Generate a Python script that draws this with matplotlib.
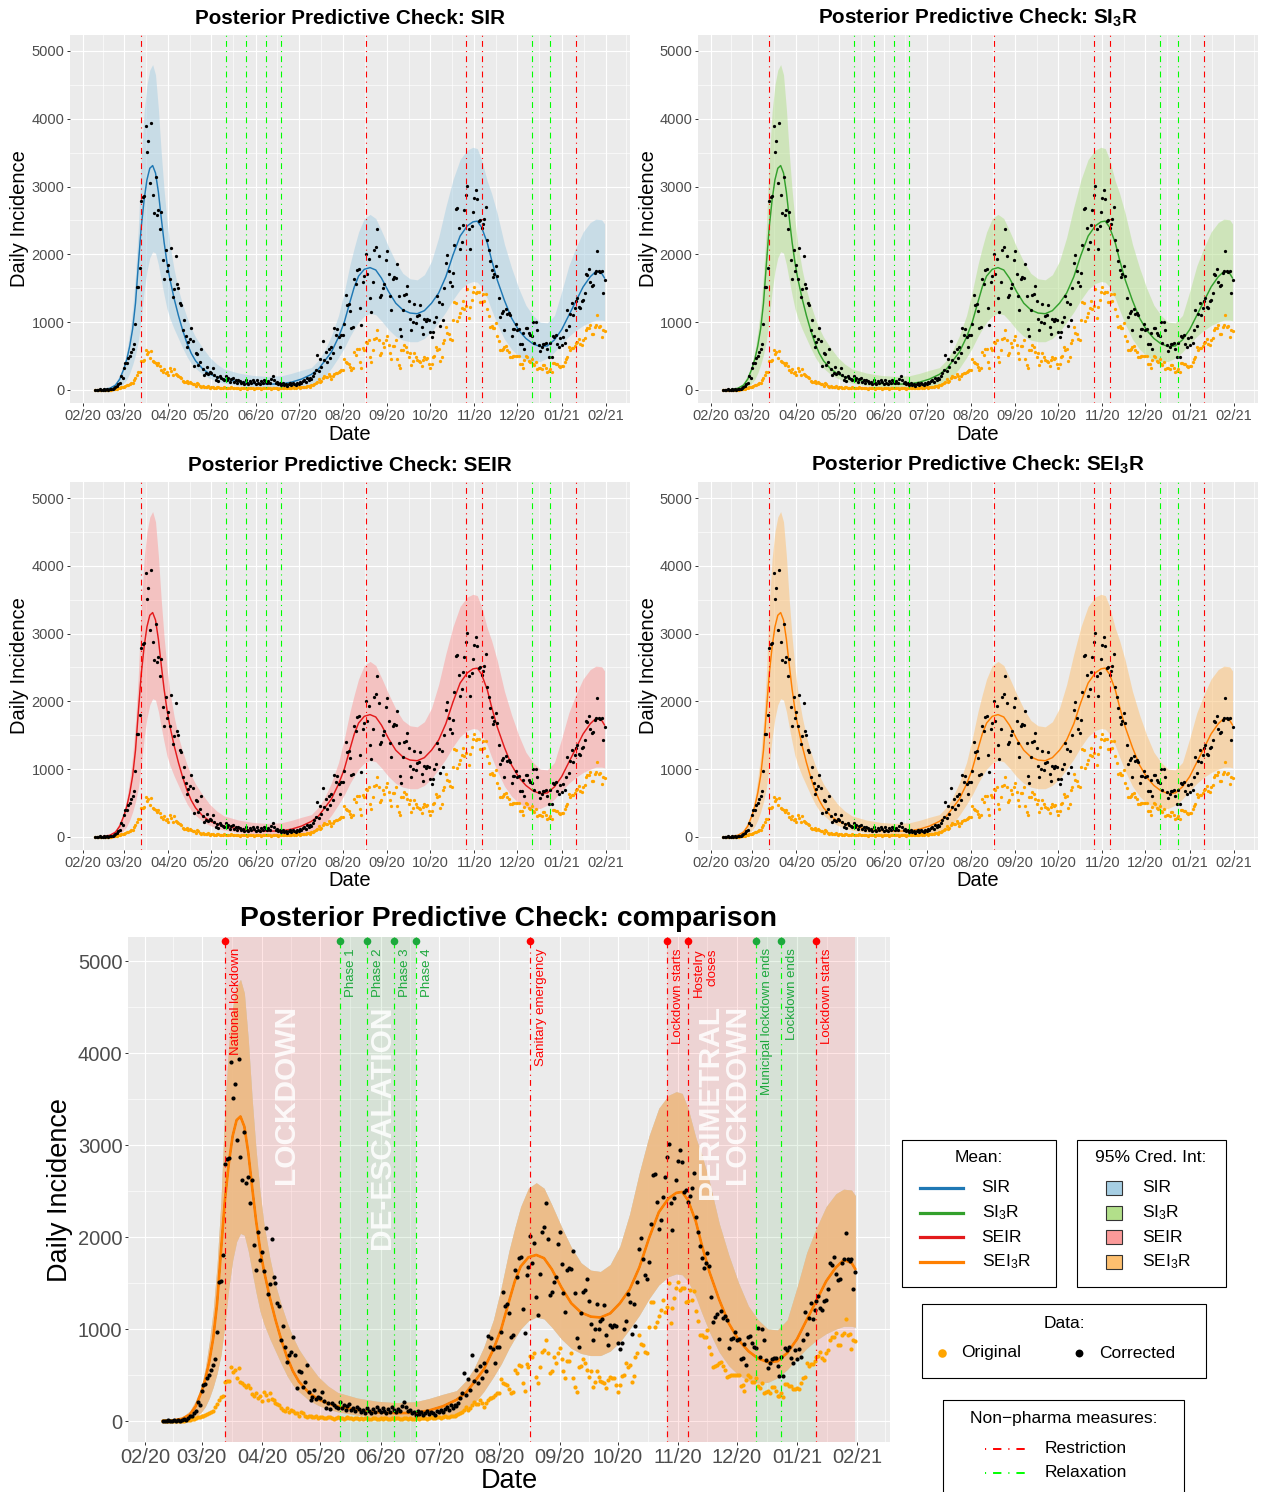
import numpy as np
import matplotlib
matplotlib.use('Agg')
import matplotlib.pyplot as plt
import matplotlib.dates as mdates
from matplotlib.patches import Rectangle
from matplotlib.lines import Line2D

plt.rcParams['font.family'] = ['Liberation Sans', 'DejaVu Sans']
plt.rcParams['mathtext.fontset'] = 'custom'
plt.rcParams['mathtext.rm'] = 'Liberation Sans'
plt.rcParams['mathtext.bf'] = 'Liberation Sans:bold'
plt.rcParams['mathtext.it'] = 'Liberation Sans:italic'
plt.rcParams['lines.scale_dashes'] = False

# ---------------- data ----------------
start_date = '2020-02-10'   # first day of the daily series

corrected = [
    0, 5, 0, 10, 5, 0, 10, 5, 15, 0,
    10, 20, 15, 30, 50, 60, 84, 110, 210, 174,
    326, 391, 400, 467, 500, 554, 609, 674, 971, 1514,
    1525, 1804, 2793, 2844, 2862, 3898, 3507, 3667, 3054, 3931,
    2873, 2616, 3141, 2583, 2649, 2373, 2620, 1913, 1641, 2058,
    1750, 1840, 1630, 2101, 1377, 1486, 1978, 1562, 1497, 1286,
    1253, 880, 1032, 801, 638, 714, 753, 910, 720, 355,
    543, 529, 373, 420, 609, 312, 228, 257, 337, 239,
    260, 250, 319, 220, 145, 192, 130, 200, 170, 155,
    140, 210, 140, 175, 120, 160, 180, 120, 140, 105,
    150, 130, 100, 120, 90, 140, 110, 85, 130, 100,
    150, 120, 95, 140, 110, 90, 130, 100, 150, 120,
    100, 130, 110, 160, 210, 150, 110, 120, 90, 100,
    70, 110, 80, 95, 65, 90, 110, 75, 100, 85,
    70, 110, 95, 120, 100, 130, 150, 120, 170, 140,
    175, 160, 200, 250, 300, 520, 280, 460, 340, 717,
    440, 560, 410, 600, 470, 630, 540, 920, 810, 900,
    780, 630, 810, 808, 971, 1406, 1250, 1270, 1170, 915,
    930, 1641, 1569, 1770, 1780, 1214, 953, 1587, 1677, 2011,
    1714, 1938, 1351, 1155, 1598, 2058, 2113, 2373, 1982, 1370,
    1406, 1507, 1569, 1924, 2051, 1711, 1388, 1181, 1640, 1660,
    1650, 1851, 1388, 899, 801, 1177, 1400, 1420, 1540, 1308,
    1051, 880, 1000, 1272, 995, 1090, 1105, 1257, 935, 823,
    1040, 1020, 1045, 1035, 851, 780, 851, 1000, 1083, 1380,
    1297, 945, 1275, 1032, 1507, 1870, 1993, 1761, 1587, 1540,
    1725, 2138, 2670, 2680, 2384, 2083, 2185, 2438, 2656, 2873,
    3011, 2370, 2076, 2420, 2620, 2826, 2950, 2819, 2490, 2510,
    2384, 2450, 2529, 2692, 2214, 2058, 1900, 1768, 1667, 1714,
    1822, 1688, 1351, 1080, 1130, 1160, 888, 1195, 1125, 1140,
    1100, 790, 895, 905, 971, 885, 895, 675, 685, 837,
    608, 910, 920, 844, 808, 790, 1007, 700, 1000, 880,
    663, 572, 630, 675, 685, 690, 600, 490, 700, 490,
    790, 775, 808, 680, 630, 770, 670, 780, 700, 880,
    1185, 950, 1115, 1286, 1112, 1206, 1308, 1362, 1230, 1206,
    1310, 1320, 1431, 1714, 1696, 1778, 1600, 1535, 1545, 1720,
    1757, 2047, 1760, 1740, 1760, 1434, 1625,
]

original = [
    0, 0, 0, 5, 0, 0, 5, 0, 5, 0,
    5, 5, 10, 10, 10, 20, 25, 30, 40, 45,
    50, 60, 70, 75, 85, 100, 110, 150, 180, 228,
    261, 272, 427, 430, 435, 583, 536, 554, 467, 580,
    427, 409, 391, 373, 395, 355, 293, 272, 308, 246,
    270, 221, 319, 282, 228, 308, 236, 225, 199, 190,
    174, 138, 125, 112, 138, 100, 125, 110, 84, 90,
    60, 100, 84, 60, 47, 55, 50, 45, 40, 55,
    35, 40, 45, 30, 35, 40, 45, 30, 25, 35,
    40, 30, 35, 25, 30, 40, 35, 30, 25, 30,
    35, 20, 30, 25, 35, 30, 20, 25, 30, 35,
    25, 20, 30, 25, 35, 30, 20, 25, 30, 25,
    35, 30, 25, 20, 30, 35, 25, 30, 20, 25,
    30, 35, 25, 30, 35, 30, 25, 35, 40, 30,
    35, 40, 45, 35, 40, 50, 45, 40, 55, 60,
    50, 70, 75, 83, 100, 120, 156, 120, 138, 170,
    210, 190, 185, 230, 200, 156, 200, 230, 246, 250,
    264, 280, 300, 300, 452, 410, 405, 390, 345, 300,
    320, 556, 519, 610, 600, 418, 330, 615, 590, 712,
    700, 740, 482, 418, 587, 753, 771, 880, 740, 519,
    540, 700, 630, 740, 790, 670, 540, 464, 650, 655,
    740, 464, 373, 320, 590, 597, 670, 630, 556, 482,
    540, 373, 428, 540, 482, 436, 428, 410, 355, 446,
    482, 464, 470, 390, 320, 390, 490, 500, 630, 590,
    610, 428, 490, 700, 740, 935, 837, 826, 753, 740,
    1025, 1297, 1290, 1018, 1080, 1140, 1206, 1315, 1188, 1236,
    1496, 1062, 1224, 1333, 1442, 1514, 1424, 1442, 1450, 1297,
    1300, 1420, 1315, 1413, 1200, 1090, 935, 940, 917, 910,
    989, 800, 728, 590, 595, 608, 633, 645, 597, 560,
    482, 490, 500, 495, 500, 505, 498, 380, 390, 330,
    446, 500, 482, 428, 420, 464, 380, 362, 410, 307,
    320, 330, 310, 370, 365, 330, 270, 275, 307, 264,
    405, 400, 380, 385, 350, 345, 355, 350, 410, 464,
    482, 633, 597, 620, 615, 650, 700, 710, 753, 680,
    663, 735, 770, 880, 910, 917, 953, 826, 830, 935,
    953, 1105, 935, 944, 780, 880, 875,
]

# model posterior mean and 95% credible interval (day offsets from start_date)
curve_day = [0, 5, 10, 14, 17, 20, 22, 24, 26, 28, 30, 32, 34, 36, 38, 40, 42, 44,
             46, 48, 50, 52, 55, 58, 61, 64, 67, 70, 75, 80, 85, 90, 100, 110, 120,
             130, 137, 144, 151, 156, 160, 165, 170, 174, 178, 181, 184, 188, 192,
             196, 200, 205, 210, 215, 220, 225, 230, 235, 240, 245, 250, 255, 260,
             264, 267, 270, 274, 277, 281, 286, 291, 296, 301, 306, 311, 316, 321,
             326, 331, 336, 341, 346, 350, 354, 356]
mean_inc = [2, 5, 25, 70, 160, 320, 460, 650, 900, 1280, 1850, 2400, 2800, 3100, 3270,
            3310, 3200, 2920, 2540, 2180, 1880, 1640, 1350, 1100, 880, 690, 540, 430,
            310, 235, 190, 160, 120, 95, 85, 90, 115, 160, 230, 310, 420, 560, 780,
            1000, 1300, 1520, 1680, 1780, 1805, 1770, 1650, 1450, 1280, 1180, 1135,
            1125, 1170, 1280, 1430, 1670, 1990, 2270, 2420, 2480, 2490, 2400, 2170,
            1920, 1620, 1320, 1060, 880, 760, 680, 640, 650, 740, 890, 1100, 1310,
            1520, 1670, 1750, 1720, 1650]
lower_inc = [0, 0, 5, 15, 50, 100, 160, 250, 370, 520, 720, 1050, 1450, 1750, 1950,
             2040, 2020, 1850, 1620, 1400, 1200, 1060, 900, 760, 620, 490, 390, 320,
             230, 170, 130, 100, 65, 45, 35, 35, 40, 55, 80, 120, 190, 320, 480, 620,
             790, 900, 1000, 1090, 1130, 1110, 1020, 890, 790, 735, 712, 712, 760, 860,
             1000, 1150, 1330, 1480, 1570, 1600, 1590, 1520, 1350, 1180, 970, 750, 600,
             500, 440, 415, 420, 470, 560, 680, 790, 880, 950, 1000, 1030, 1030, 1020]
upper_inc = [10, 15, 40, 110, 220, 380, 580, 860, 1200, 1700, 2400, 3400, 4100, 4500,
             4720, 4800, 4650, 4150, 3500, 2950, 2500, 2150, 1780, 1480, 1260, 1070,
             910, 780, 620, 480, 380, 310, 250, 215, 200, 210, 245, 290, 330, 440, 570,
             800, 1100, 1450, 1850, 2100, 2330, 2530, 2590, 2530, 2350, 2110, 1890,
             1720, 1640, 1625, 1700, 1900, 2250, 2700, 3100, 3400, 3540, 3580, 3560,
             3400, 3080, 2900, 2600, 2150, 1800, 1500, 1250, 1100, 1000, 990, 1100,
             1450, 1830, 2100, 2330, 2470, 2520, 2510, 2450]

models = ['SIR', 'SI$_3$R', 'SEIR', 'SEI$_3$R']
titles_math = ['SIR', r'SI$\mathbf{_3}$R', 'SEIR', r'SEI$\mathbf{_3}$R']
line_colors = ['#1F78B4', '#33A02C', '#E31A1C', '#FF7F00']
band_colors = ['#A6CEE3', '#B2DF8A', '#FB9A99', '#FDBF6F']

restriction_dates = ['2020-03-13', '2020-08-17', '2020-10-26', '2020-11-06', '2021-01-11']
restriction_labels = ['National lockdown', 'Sanitary emergency', 'Lockdown starts',
                      'Hostelry\ncloses', 'Lockdown starts']
relaxation_dates = ['2020-05-11', '2020-05-25', '2020-06-08', '2020-06-19',
                    '2020-12-11', '2020-12-24']
relaxation_labels = ['Phase 1', 'Phase 2', 'Phase 3', 'Phase 4',
                     'Municipal lockdown ends', 'Lockdown ends']

period_start = ['2020-03-13', '2020-05-11', '2020-10-26', '2020-12-11', '2021-01-11']
period_end = ['2020-05-11', '2020-06-19', '2020-12-11', '2021-01-11', '2021-01-31']
period_kind = ['restriction', 'relaxation', 'restriction', 'relaxation', 'restriction']
period_label = ['LOCKDOWN', 'DE-ESCALATION', 'PERIMETRAL\nLOCKDOWN', '', '']

# ---------------- helpers ----------------
W, H = 1261, 1492
fig = plt.figure(figsize=(W / 100, H / 100), dpi=100)

t0 = mdates.date2num(np.datetime64(start_date))
x_corr = t0 + np.arange(len(corrected))
x_orig = t0 + np.arange(len(original))
x_curve = t0 + np.array(curve_day)
span = x_corr[-1] - x_corr[0]
xlo, xhi = x_corr[0] - 0.05 * span, x_corr[-1] + 0.05 * span

months = np.arange(np.datetime64('2020-02'), np.datetime64('2021-03'), dtype='datetime64[M]')
month_num = mdates.date2num(months.astype('datetime64[D]'))
month_lab = [mdates.num2date(m).strftime('%m/%y') for m in month_num]
minor_x = (month_num[:-1] + month_num[1:]) / 2
minor_x = np.append(minor_x, month_num[-1] + 14)

def dnum(s):
    return mdates.date2num(np.datetime64(s))

def ax_rect(l, t, r, b):
    return [l / W, 1 - b / H, (r - l) / W, (b - t) / H]

RED = '#FF0000'
LIME = '#00FF00'
DGREEN = '#1CA83C'
DASH = (0, (0.8, 3.0, 4.2, 3.0))

def style(ax, ylim, fs):
    ax.set_facecolor('#EBEBEB')
    for s in ax.spines.values():
        s.set_visible(False)
    ax.set_xlim(xlo, xhi)
    ax.set_ylim(*ylim)
    ax.set_xticks(month_num)
    ax.set_xticklabels(month_lab)
    ax.set_xticks(minor_x, minor=True)
    ax.set_yticks(np.arange(0, 5001, 1000))
    ax.set_yticks(np.arange(500, 5000, 1000), minor=True)
    ax.set_axisbelow(True)
    ax.grid(which='major', color='white', lw=0.85)
    ax.grid(which='minor', color='white', lw=0.45)
    ax.tick_params(which='major', length=2.4, width=0.7, color='#333333',
                   labelsize=fs, labelcolor='#4D4D4D', pad=1.6)
    ax.tick_params(which='minor', length=0)

def draw_band(ax, i):
    ax.fill_between(x_curve, lower_inc, upper_inc, color=band_colors[i],
                    alpha=0.5, lw=0, zorder=2)

def draw_mean(ax, i, lw):
    ax.plot(x_curve, mean_inc, color=line_colors[i], lw=lw, zorder=3,
            solid_capstyle='round', solid_joinstyle='round')

def draw_vlines(ax, lw):
    for d in restriction_dates:
        ax.axvline(dnum(d), color=RED, lw=lw, ls=DASH, zorder=5)
    for d in relaxation_dates:
        ax.axvline(dnum(d), color=LIME, lw=lw, ls=DASH, zorder=5)

def draw_points(ax, s):
    ax.scatter(x_orig, original, s=s, color='#FFA500', lw=0, zorder=4)
    ax.scatter(x_corr, corrected, s=s, color='black', lw=0, zorder=4)

# ---------------- small panels ----------------
small_rects = [(70, 35, 630, 403), (698, 35, 1258, 403),
               (70, 482, 630, 850), (698, 482, 1258, 850)]
for i, (l, t, r, b) in enumerate(small_rects):
    ax = fig.add_axes(ax_rect(l, t, r, b))
    style(ax, (-192, 5236), 10.5)
    draw_band(ax, i)
    draw_mean(ax, i, 1.05)
    draw_points(ax, 5.5)
    draw_vlines(ax, 0.8)

# ---------------- comparison panel ----------------
axc = fig.add_axes(ax_rect(128, 937, 890, 1442))
style(axc, (-228, 5261), 14.5)
for s0, s1, k in zip(period_start, period_end, period_kind):
    col = '#FF0000' if k == 'restriction' else '#228B22'
    axc.axvspan(dnum(s0), dnum(s1), color=col, alpha=0.1, lw=0, zorder=1)
for i in range(4):
    draw_band(axc, i)
for i in range(3):
    draw_mean(axc, i, 1.0)
draw_mean(axc, 3, 1.9)
draw_points(axc, 9)
draw_vlines(axc, 0.85)

dot_y = 5217
for d, lab in zip(restriction_dates, restriction_labels):
    axc.scatter([dnum(d)], [dot_y], s=30, color=RED, lw=0, zorder=6, clip_on=False)
    off = 18 if '\n' in lab else 11
    axc.annotate(lab, xy=(dnum(d), 5141), xytext=(off, 0), textcoords='offset pixels',
                 rotation=90, ha='center', va='top', multialignment='right',
                 fontsize=9.5, color=RED, zorder=6)
for d, lab in zip(relaxation_dates, relaxation_labels):
    axc.scatter([dnum(d)], [dot_y], s=30, color=DGREEN, lw=0, zorder=6, clip_on=False)
    axc.annotate(lab, xy=(dnum(d), 5141), xytext=(11, 0), textcoords='offset pixels',
                 rotation=90, ha='center', va='top', fontsize=9.5, color=DGREEN, zorder=6)

for s0, s1, lab in zip(period_start, period_end, period_label):
    if not lab:
        continue
    mid = (dnum(s0) + dnum(s1)) / 2
    off = 12.5 if '\n' in lab else 4
    axc.annotate(lab, xy=(mid, 4520), xytext=(off, 0), textcoords='offset pixels',
                 rotation=90, ha='center', va='top', multialignment='right',
                 fontsize=21.5, fontweight='bold', color='white', alpha=0.85,
                 zorder=3.5, linespacing=0.95)

# ---------------- overlay: titles, labels, legends ----------------
ov = fig.add_axes([0, 0, 1, 1])
ov.set_xlim(0, W)
ov.set_ylim(H, 0)
ov.axis('off')
ov.patch.set_visible(False)

centers = [(350, 219), (978, 219), (350, 666), (978, 666)]
for i, (cx, cy) in enumerate(centers):
    base = 24 if cy < 400 else 471
    ov.text(cx, base, 'Posterior Predictive Check: ' + titles_math[i], ha='center',
            va='baseline', fontsize=14.9, fontweight='bold')
    ov.text(cx - 330, cy, 'Daily Incidence', rotation=90, ha='center', va='center',
            fontsize=14.5)
    ov.text(cx, cy + 215, 'Date', ha='center', va='center', fontsize=14.5)

ov.text(509, 926, 'Posterior Predictive Check: comparison', ha='center', va='baseline',
        fontsize=20.3, fontweight='bold')
ov.text(60, 1190, 'Daily Incidence', rotation=90, ha='center', va='center', fontsize=19.5)
ov.text(509, 1481, 'Date', ha='center', va='center', fontsize=19.5)

LFS = 12.5
# Mean legend
ov.add_patch(Rectangle((902, 1139.5), 154, 147, fill=False, ec='black', lw=0.8))
ov.text(979, 1157, 'Mean:', ha='center', va='center', fontsize=LFS)
# Cred. int legend
ov.add_patch(Rectangle((1077, 1139.5), 149, 147, fill=False, ec='black', lw=0.8))
ov.text(1151, 1157, '95% Cred. Int:', ha='center', va='center', fontsize=LFS)
for i, yy in enumerate([1188, 1212.5, 1237, 1261.5]):
    ov.add_line(Line2D([920, 962.5], [yy, yy], color=line_colors[i], lw=2.3))
    ov.text(981.5, yy, models[i], ha='left', va='center', fontsize=LFS)
    ov.add_patch(Rectangle((1105.5, yy - 7), 16, 14, fc=band_colors[i], ec='#333333', lw=0.8))
    ov.text(1142, yy, models[i], ha='left', va='center', fontsize=LFS)

# Data legend
ov.add_patch(Rectangle((922, 1304), 284, 73.5, fill=False, ec='black', lw=0.8))
ov.text(1064, 1323.5, 'Data:', ha='center', va='center', fontsize=LFS)
ov.scatter([941.5], [1353], s=38, color='#FFA500', lw=0)
ov.text(961.5, 1353, 'Original', ha='left', va='center', fontsize=LFS)
ov.scatter([1078.5], [1353], s=32, color='black', lw=0)
ov.text(1099, 1353, 'Corrected', ha='left', va='center', fontsize=LFS)

# Non-pharma legend
ov.add_patch(Rectangle((943, 1399.5), 241, 120, fill=False, ec='black', lw=0.8, clip_on=False))
ov.text(1063.5, 1418, 'Non\u2212pharma measures:', ha='center', va='center', fontsize=LFS)
LDASH = (0, (0.8, 5.0, 6.0, 5.0))
ov.add_line(Line2D([984.5, 1025.5], [1448.5, 1448.5], color=RED, lw=1.4, ls=LDASH))
ov.text(1045, 1448.5, 'Restriction', ha='left', va='center', fontsize=LFS)
ov.add_line(Line2D([984.5, 1025.5], [1472.8, 1472.8], color=LIME, lw=1.4, ls=LDASH))
ov.text(1045, 1472.8, 'Relaxation', ha='left', va='center', fontsize=LFS)

fig.savefig('out.png', dpi=100, facecolor='white')
